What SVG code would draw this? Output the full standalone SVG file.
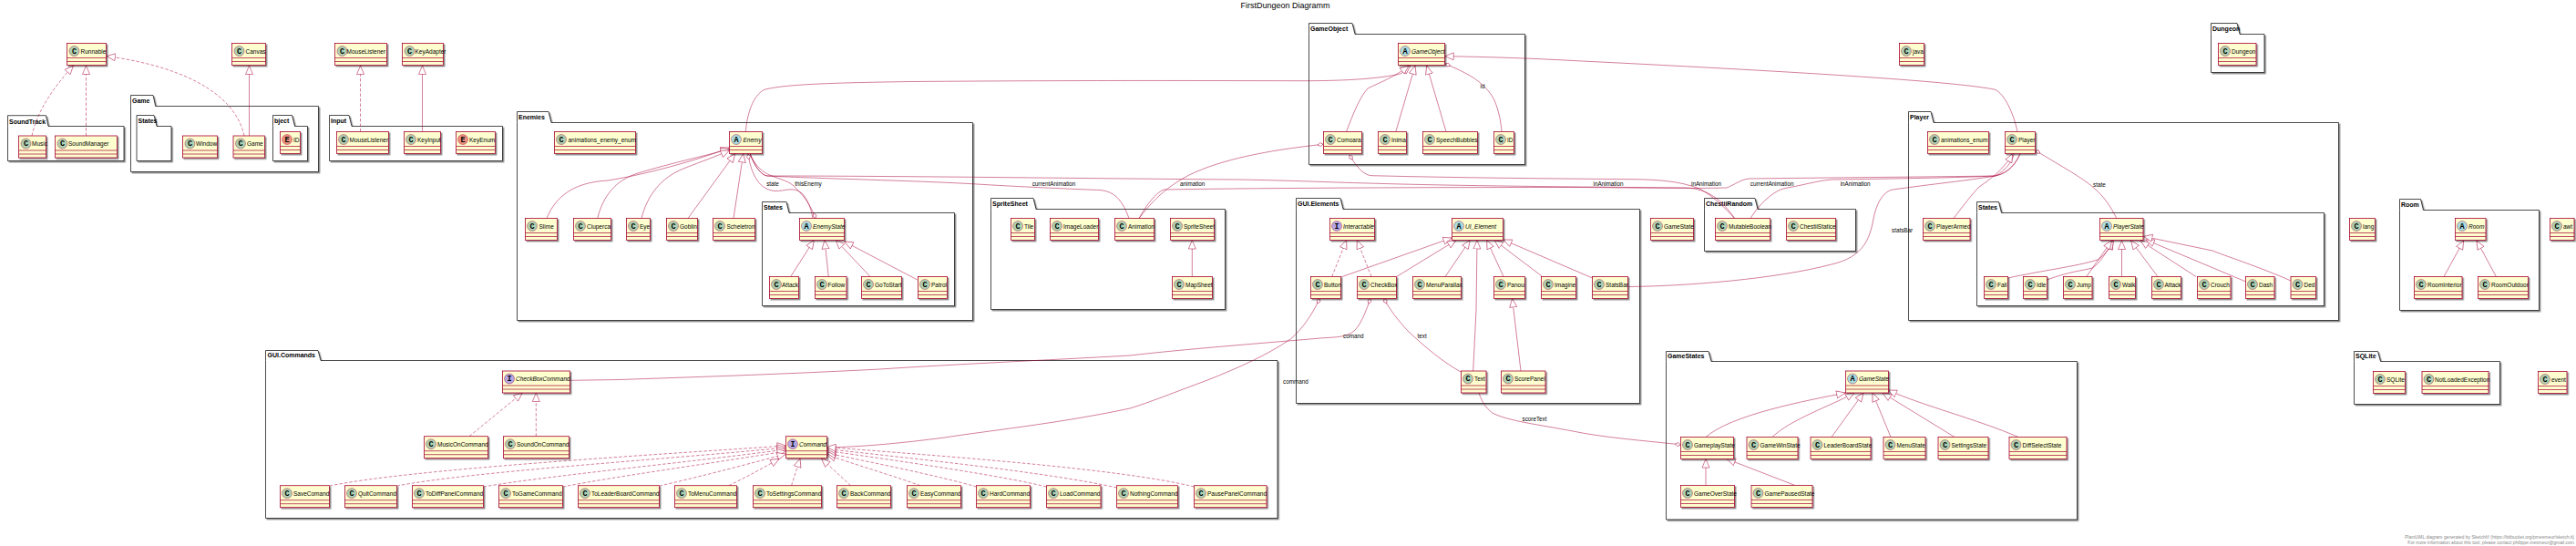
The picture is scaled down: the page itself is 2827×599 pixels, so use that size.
<svg xmlns="http://www.w3.org/2000/svg" width="2827" height="599" viewBox="0 0 2827 599">
<defs>
<filter id="sh" x="-20%" y="-20%" width="150%" height="150%"><feDropShadow dx="1.5" dy="1.5" stdDeviation="0.7" flood-color="#000" flood-opacity="0.45"/></filter>
<marker id="tri" markerUnits="userSpaceOnUse" markerWidth="12" markerHeight="10" refX="10" refY="5" orient="auto"><path d="M0.5 1L10 5L0.5 9Z" fill="#fff" stroke="#A80036" stroke-width="0.5"/></marker>
<marker id="dia" markerUnits="userSpaceOnUse" markerWidth="8" markerHeight="6" refX="0.5" refY="3" orient="auto"><path d="M0.5 3L3.5 1L6.5 3L3.5 5Z" fill="#fff" stroke="#A80036" stroke-width="0.5"/></marker>
</defs>
<style>
text{font-family:"Liberation Sans",Arial,sans-serif;fill:#000}
.b{fill:#FEFECE;stroke:#A80036;stroke-width:.8;filter:url(#sh)}
.d{fill:none;stroke:#A80036;stroke-width:.7}
.ic{stroke:#A80036;stroke-width:.4}
.C{fill:#ADD1B2}.A{fill:#A9DCDF}.I{fill:#B4A7E5}.E{fill:#EB937F}
.g{font-family:"Liberation Mono",monospace;font-weight:700;font-size:8.5px;text-anchor:middle}
.t{font-size:6.5px}
.it{font-size:6.5px;font-style:italic}
.p{fill:#fff;stroke:#000;stroke-width:.7;filter:url(#sh)}
.pt{font-size:7px;font-weight:700}
.l{font-size:6.3px}
.e{fill:none;stroke:#A80036;stroke-width:.5}
.s{stroke-dasharray:3.5 2}
.h{marker-end:url(#tri)}
.o{marker-start:url(#dia)}
.f{font-size:5px;fill:#888;text-anchor:end}
</style>
<text x="1410.5" y="9" font-size="9" text-anchor="middle">FirstDungeon Diagramm</text>
<g id="packages">
<g id="p-SoundTrack"><path class="p" d="M8.5 138.5V126.7H50.5L53 138.5H136V176.5H8.5Z"/><text class="pt" x="10" y="135.5">SoundTrack</text></g>
<g id="p-Game"><path class="p" d="M143.5 116.5V104.5H168L170.7 116.5H349.5V188.5H143.5Z"/><text class="pt" x="145" y="113">Game</text></g>
<g id="p-Game-States"><path class="p" d="M150 138.5V126.5H169L172 138.5H188V176.5H150Z"/><text class="pt" x="151.5" y="135">States</text></g>
<g id="p-Object"><path class="p" d="M299.5 138.5V126.5H320.5L323.5 138.5H337.5V176.5H299.5Z"/><text class="pt" x="301" y="135">bject</text></g>
<g id="p-Input"><path class="p" d="M361.5 138.5V126.5H383L386 138.5H551.5V176.5H361.5Z"/><text class="pt" x="363" y="135">Input</text></g>
<g id="p-Enemies"><path class="p" d="M567.5 134.5V122.5H602L605 134.5H1067.5V351.5H567.5Z"/><text class="pt" x="569" y="131">Enemies</text></g>
<g id="p-Enemy-States"><path class="p" d="M836.5 233.5V221.5H863L866 233.5H1047.5V335.5H836.5Z"/><text class="pt" x="838" y="230">States</text></g>
<g id="p-SpriteSheet"><path class="p" d="M1087.5 229.5V217.5H1134L1137 229.5H1344.5V339.5H1087.5Z"/><text class="pt" x="1089" y="226">SpriteSheet</text></g>
<g id="p-GameObject"><path class="p" d="M1436.5 37.5V25.5H1484L1487 37.5H1673.5V180.5H1436.5Z"/><text class="pt" x="1438" y="34">GameObject</text></g>
<g id="p-GUIElements"><path class="p" d="M1422.5 229.5V217.5H1471L1474 229.5H1799.5V442.5H1422.5Z"/><text class="pt" x="1424" y="226">GUI.Elements</text></g>
<g id="p-ChestiiRandom"><path class="p" d="M1870.5 229.5V217.5H1926L1929 229.5H2036.5V275.5H1870.5Z"/><text class="pt" x="1872" y="226">ChestiiRandom</text></g>
<g id="p-Dungeon"><path class="p" d="M2426.5 37.5V25.5H2455L2458 37.5H2485V79.5H2426.5Z"/><text class="pt" x="2428" y="34">Dungeon</text></g>
<g id="p-Player"><path class="p" d="M2094.5 134.5V122.5H2119L2122 134.5H2566.5V351.5H2094.5Z"/><text class="pt" x="2096" y="131">Player</text></g>
<g id="p-Player-States"><path class="p" d="M2169.5 233.5V221.5H2193.5L2196.5 233.5H2550.5V335.5H2169.5Z"/><text class="pt" x="2171" y="230">States</text></g>
<g id="p-Room"><path class="p" d="M2633.5 230.5V218.5H2656.5L2659.5 230.5H2786.5V340.5H2633.5Z"/><text class="pt" x="2635" y="227">Room</text></g>
<g id="p-SQLite"><path class="p" d="M2583.5 396.5V385.5H2609.5L2612.5 396.5H2743.5V443.5H2583.5Z"/><text class="pt" x="2585" y="393">SQLite</text></g>
<g id="p-GUICommands"><path class="p" d="M291.5 395.5V384.5H349L352 395.5H1402V568.5H291.5Z"/><text class="pt" x="293.5" y="392">GUI.Commands</text></g>
<g id="p-GameStates"><path class="p" d="M1828.5 396.5V385.5H1875L1878 396.5H2279.5V570H1828.5Z"/><text class="pt" x="1830" y="393">GameStates</text></g>
</g>
<g id="connectors">
<path class="e s h" d="M35 149C40 125 55 100 80.5 72"/>
<path class="e s h" d="M94.5 149V72"/>
<path class="e s h" d="M268 149C260 110 215 75 117 61.5"/>
<path class="e h" d="M273.5 149V72"/>
<path class="e s h" d="M395.5 144.5V72"/>
<path class="e h" d="M463.5 144.5V72"/>
<path class="e h" d="M818.3 144.5C820 125 826 105 838.8 98.3C860 93 900 91 1000 89.5C1200 88 1300 88.5 1437 88.7C1480 88.5 1515 86 1537 81L1548 72"/>
<path class="e h" d="M1477.5 144.5C1485 125 1492 107 1501 97C1515 90 1530 85 1546 72"/>
<path class="e h" d="M1531.8 144.5L1553 72"/>
<path class="e h" d="M1587 144.5L1565.7 72"/>
<path class="e o" d="M1586 70C1610 80 1630 90 1640 110C1645 122 1647 133 1648 144.5"/>
<path class="e h" d="M2214 144.5C2210 125 2200 103 2189.5 98.3C2150 90 2000 80 1730 66.7C1680 64 1640 62.5 1585.7 61.7"/>
<path class="e h" d="M600 239.5C610 215 630 200 667 198C700 193 760 178 800.5 162"/>
<path class="e h" d="M655.7 239.5C662 215 675 198 700 190C740 178 770 172 800.5 163.5"/>
<path class="e h" d="M704 239.5C710 215 725 195 750 185C770 177 785 172 800.5 165"/>
<path class="e h" d="M755 239.5L806.7 168.5"/>
<path class="e h" d="M805 239.5L815.7 168.5"/>
<path class="e o" d="M821 169C825 195 835 208 850 209.5C862 210 870 204 880 212C886 218 890 228 892 239.5"/>
<path class="e o" d="M895 239.5C890 225 880 212 870 203C855 192 835 197 823 168.5"/>
<path class="e h" d="M867.7 303.5L893.3 263.5"/>
<path class="e h" d="M909.3 303.5L905 263.5"/>
<path class="e h" d="M955 303.5L917.3 263.5"/>
<path class="e h" d="M1006.7 307L926.7 265"/>
<path class="e" d="M823 168.5C828 182 835 192 842 193C1000 193 1200 196 1358 197C1420 198 1460 200 1501 201C1600 204 1730 205 1850 206C1875 207 1890 220 1903.6 239.5"/>
<path class="e" d="M823 168.5C828 182 835 192 842 193C900 196 1000 198 1067 201.7C1120 205 1170 207 1200 208.3C1220 208 1230 215 1239 239.5"/>
<path class="e o" d="M1452 158.3C1390 165 1340 175 1305 192C1280 205 1265 220 1250 239.5"/>
<path class="e" d="M1250 239.5C1258 225 1268 212 1277 208C1400 206 1600 205.5 1730 205.5C1800 206 1860 207 1894.9 206C1905 202 1910 197 1919.4 196C2000 195 2120 194 2189.5 193C2205 190 2213 178 2217 168.5"/>
<path class="e o" d="M1481 170C1487 180 1495 192 1505 192.7C1600 195 1700 196 1793 196.7C1820 197 1845 199 1865 207C1880 215 1893 228 1903.6 239.5"/>
<path class="e" d="M1921 239.5C1930 225 1945 210 1958 206.7C1980 203 1995 198 2010.6 197C2080 196 2150 195 2189.5 193C2205 190 2213 178 2217 168.5"/>
<path class="e" d="M1786.8 314.5C1850 314 1950 306 2010 290C2045 282 2052 262 2056 240C2060 220 2068 210 2077 208C2120 202 2160 198 2189.5 193C2200 188 2208 178 2210.5 168.5"/>
<path class="e h" d="M2144 239.5C2155 225 2165 212 2172 205C2185 196 2200 185 2208.8 168.5"/>
<path class="e o" d="M2233.7 165C2265 184 2285 195 2296.5 205C2310 216 2317 228 2322.8 239.5"/>
<path class="e h" d="M2203.5 305C2240 297 2280 292 2302 285C2310 280 2315 272 2319 264"/>
<path class="e h" d="M2246.7 307C2270 298 2285 297 2296.5 294C2305 288 2312 276 2319.5 264"/>
<path class="e h" d="M2289.7 303.5L2317.5 264"/>
<path class="e h" d="M2328.5 303.5V264"/>
<path class="e h" d="M2368 303.5L2338.6 264"/>
<path class="e h" d="M2410 303.5L2349 264"/>
<path class="e h" d="M2464.7 309L2354.8 263"/>
<path class="e h" d="M2514 308C2480 293 2440 280 2428 275L2352.5 259.3"/>
<path class="e h" d="M2682 303.5L2703.7 264"/>
<path class="e h" d="M2739.4 303.5L2718 264"/>
<path class="e h" d="M1308.3 303.5V263.5"/>
<path class="e s h" d="M1461.7 303.5L1477.7 263.5"/>
<path class="e s h" d="M1505 303.5L1489.3 263.5"/>
<path class="e h" d="M1471.7 304L1593.3 261"/>
<path class="e h" d="M1532.7 303.5L1598 263.5"/>
<path class="e h" d="M1586 303.5L1613.3 263.5"/>
<path class="e h" d="M1616.7 407L1620 340L1621 263.5"/>
<path class="e h" d="M1650 303.5L1631.7 263.5"/>
<path class="e h" d="M1691.7 302.7L1640 263.5"/>
<path class="e h" d="M1747.6 305L1649.7 263"/>
<path class="e h" d="M1669 407L1659.6 327.5"/>
<path class="e o" d="M1448.3 327.5C1440 345 1430 360 1416.7 371.7C1390 390 1360 403 1326 416.7C1290 430 1260 442 1240 448C1160 465 1080 473 1037 480C990 486 950 490 907.5 491"/>
<path class="e o" d="M1503.9 327.5C1498 345 1492 358 1486 363C1478 370 1465 370 1452.5 370.7C1380 377 1300 383 1240 390C1150 395 1040 400 965.7 405C850 411 750 414 680 416.5L625.7 417.3"/>
<path class="e o" d="M1519 327.5C1525 340 1535 352 1545 363C1565 382 1585 398 1603.2 408"/>
<path class="e o" d="M1844.4 488L1839.7 487.3C1800 483 1760 480 1726 473C1690 466 1655 462 1637.7 453C1630 447 1626 440 1623 431"/>
<path class="e s h" d="M515 478.7L573.3 431"/>
<path class="e s h" d="M588.3 478.7V431"/>
<path class="e s h" d="M361.7 533C450 515 700 500 862.5 489"/>
<path class="e s h" d="M435.7 533C520 517 720 505 862.5 491"/>
<path class="e s h" d="M530.7 534C600 522 750 508 862.5 493"/>
<path class="e s h" d="M617.7 534C680 522 770 510 862.5 495"/>
<path class="e s h" d="M723.6 533C760 525 810 512 862.5 498"/>
<path class="e s h" d="M799.6 532.7C820 523 840 512 855 503.3"/>
<path class="e s h" d="M868.6 532.7L878 503"/>
<path class="e s h" d="M933.6 532.7L901.4 503"/>
<path class="e s h" d="M1010 532.7C980 522 940 510 907.5 499"/>
<path class="e s h" d="M1071.4 534C1030 522 960 508 907.5 497"/>
<path class="e s h" d="M1148.2 534C1100 522 990 506 907.5 494.5"/>
<path class="e s h" d="M1225.4 535C1150 518 1000 503 907.5 492.5"/>
<path class="e s h" d="M1310.3 534C1230 514 1030 500 907.5 490.5"/>
<path class="e h" d="M1872 479.5C1900 455 1980 440 2025 431"/>
<path class="e h" d="M1945 479.5C1965 460 2010 445 2035 431"/>
<path class="e h" d="M2010 479.5L2045 431"/>
<path class="e h" d="M2075 479.5L2055 431"/>
<path class="e h" d="M2145 479.5L2066 431"/>
<path class="e h" d="M2215 479.5C2170 460 2110 445 2072 428"/>
<path class="e h" d="M1872 532.5V503.5"/>
<path class="e h" d="M1970 532.5L1895 503.5"/>
</g>
<g id="labels">
<text class="l" x="848" y="204" text-anchor="middle">state</text>
<text class="l" x="887" y="204" text-anchor="middle">thisEnemy</text>
<text class="l" x="1132.7" y="204">currentAnimation</text>
<text class="l" x="1295" y="204">animation</text>
<text class="l" x="1624.5" y="97">id</text>
<text class="l" x="1748.6" y="204">inAnimation</text>
<text class="l" x="1856" y="204">inAnimation</text>
<text class="l" x="1920.8" y="204">currentAnimation</text>
<text class="l" x="2019.7" y="204">inAnimation</text>
<text class="l" x="2076" y="254.5">statsBar</text>
<text class="l" x="2297" y="204.5">state</text>
<text class="l" x="1474" y="370.5">comand</text>
<text class="l" x="1555.6" y="370.5">text</text>
<text class="l" x="1408" y="421">command</text>
<text class="l" x="1670.5" y="461.5">scoreText</text>
</g>
<g id="n-Runnable"><rect class="b" x="73.5" y="47.5" width="43" height="24"/><path class="d" d="M73.5 63.5h43M73.5 67.5h43"/><circle class="ic C" cx="81.5" cy="56" r="5.5"/><text class="g" x="81.5" y="58.8">C</text><text class="t" x="88.5" y="58.5">Runnable</text></g>
<g id="n-Canvas"><rect class="b" x="254.5" y="47.5" width="37" height="24"/><path class="d" d="M254.5 63.5h37M254.5 67.5h37"/><circle class="ic C" cx="262.5" cy="56" r="5.5"/><text class="g" x="262.5" y="58.8">C</text><text class="t" x="269.5" y="58.5">Canvas</text></g>
<g id="n-MouseListenerTop"><rect class="b" x="367.5" y="47.5" width="57" height="24"/><path class="d" d="M367.5 63.5h57M367.5 67.5h57"/><circle class="ic C" cx="375.5" cy="56" r="5.5"/><text class="g" x="375.5" y="58.8">C</text><text class="t" x="380.5" y="58.5">MouseListener</text></g>
<g id="n-KeyAdapter"><rect class="b" x="441.5" y="47.5" width="45" height="24"/><path class="d" d="M441.5 63.5h45M441.5 67.5h45"/><circle class="ic C" cx="449.5" cy="56" r="5.5"/><text class="g" x="449.5" y="58.8">C</text><text class="t" x="455.5" y="58.5">KeyAdapter</text></g>
<g id="n-Music"><rect class="b" x="20.5" y="149" width="30" height="24"/><path class="d" d="M20.5 165h30M20.5 169h30"/><circle class="ic C" cx="28.5" cy="157.5" r="5.5"/><text class="g" x="28.5" y="160.3">C</text><text class="t" x="35" y="160">Music</text></g>
<g id="n-SoundManager"><rect class="b" x="60.5" y="149" width="68" height="24"/><path class="d" d="M60.5 165h68M60.5 169h68"/><circle class="ic C" cx="68.5" cy="157.5" r="5.5"/><text class="g" x="68.5" y="160.3">C</text><text class="t" x="75" y="160">SoundManager</text></g>
<g id="n-Window"><rect class="b" x="200.5" y="149" width="38" height="24"/><path class="d" d="M200.5 165h38M200.5 169h38"/><circle class="ic C" cx="208.5" cy="157.5" r="5.5"/><text class="g" x="208.5" y="160.3">C</text><text class="t" x="215" y="160">Window</text></g>
<g id="n-Game"><rect class="b" x="256" y="149" width="34.5" height="24"/><path class="d" d="M256 165h34.5M256 169h34.5"/><circle class="ic C" cx="264" cy="157.5" r="5.5"/><text class="g" x="264" y="160.3">C</text><text class="t" x="271" y="160">Game</text></g>
<g id="n-IDenum"><rect class="b" x="307.5" y="144.5" width="22" height="24"/><path class="d" d="M307.5 160.5h22M307.5 164.5h22"/><circle class="ic E" cx="315" cy="153" r="5.5"/><text class="g" x="315" y="155.8">E</text><text class="t" x="322" y="155.5">ID</text></g>
<g id="n-MouseListener"><rect class="b" x="369.5" y="144.5" width="57" height="24"/><path class="d" d="M369.5 160.5h57M369.5 164.5h57"/><circle class="ic C" cx="377" cy="153" r="5.5"/><text class="g" x="377" y="155.8">C</text><text class="t" x="383.5" y="155.5">MouseListener</text></g>
<g id="n-KeyInput"><rect class="b" x="443.5" y="144.5" width="40" height="24"/><path class="d" d="M443.5 160.5h40M443.5 164.5h40"/><circle class="ic C" cx="451" cy="153" r="5.5"/><text class="g" x="451" y="155.8">C</text><text class="t" x="458" y="155.5">KeyInput</text></g>
<g id="n-KeyEnum"><rect class="b" x="500.5" y="144.5" width="43" height="24"/><path class="d" d="M500.5 160.5h43M500.5 164.5h43"/><circle class="ic E" cx="508" cy="153" r="5.5"/><text class="g" x="508" y="155.8">E</text><text class="t" x="515" y="155.5">KeyEnum</text></g>
<g id="n-animations_enemy_enum"><rect class="b" x="608.5" y="144.5" width="89" height="24"/><path class="d" d="M608.5 160.5h89M608.5 164.5h89"/><circle class="ic C" cx="616" cy="153" r="5.5"/><text class="g" x="616" y="155.8">C</text><text class="t" x="623.5" y="155.5">animations_enemy_enum</text></g>
<g id="n-Enemy"><rect class="b" x="800.5" y="144.5" width="36" height="24"/><path class="d" d="M800.5 160.5h36M800.5 164.5h36"/><circle class="ic A" cx="808" cy="153" r="5.5"/><text class="g" x="808" y="155.8">A</text><text class="it" x="815.5" y="155.5">Enemy</text></g>
<g id="n-Slime"><rect class="b" x="576.5" y="239.5" width="35" height="24"/><path class="d" d="M576.5 255.5h35M576.5 259.5h35"/><circle class="ic C" cx="584" cy="248" r="5.5"/><text class="g" x="584" y="250.8">C</text><text class="t" x="591.5" y="250.5">Slime</text></g>
<g id="n-Ciuperca"><rect class="b" x="629.5" y="239.5" width="41" height="24"/><path class="d" d="M629.5 255.5h41M629.5 259.5h41"/><circle class="ic C" cx="637" cy="248" r="5.5"/><text class="g" x="637" y="250.8">C</text><text class="t" x="644" y="250.5">Ciuperca</text></g>
<g id="n-Eye"><rect class="b" x="687.5" y="239.5" width="26" height="24"/><path class="d" d="M687.5 255.5h26M687.5 259.5h26"/><circle class="ic C" cx="695" cy="248" r="5.5"/><text class="g" x="695" y="250.8">C</text><text class="t" x="702" y="250.5">Eye</text></g>
<g id="n-Goblin"><rect class="b" x="731.5" y="239.5" width="34" height="24"/><path class="d" d="M731.5 255.5h34M731.5 259.5h34"/><circle class="ic C" cx="739" cy="248" r="5.5"/><text class="g" x="739" y="250.8">C</text><text class="t" x="746" y="250.5">Goblin</text></g>
<g id="n-Scheletron"><rect class="b" x="782.5" y="239.5" width="46" height="24"/><path class="d" d="M782.5 255.5h46M782.5 259.5h46"/><circle class="ic C" cx="790" cy="248" r="5.5"/><text class="g" x="790" y="250.8">C</text><text class="t" x="797.5" y="250.5">Scheletron</text></g>
<g id="n-EnemyState"><rect class="b" x="877.5" y="239.5" width="49" height="24"/><path class="d" d="M877.5 255.5h49M877.5 259.5h49"/><circle class="ic A" cx="885" cy="248" r="5.5"/><text class="g" x="885" y="250.8">A</text><text class="it" x="892" y="250.5">EnemyState</text></g>
<g id="n-EnemyAttack"><rect class="b" x="844.5" y="303.5" width="32" height="24"/><path class="d" d="M844.5 319.5h32M844.5 323.5h32"/><circle class="ic C" cx="852" cy="312" r="5.5"/><text class="g" x="852" y="314.8">C</text><text class="t" x="858" y="314.5">Attack</text></g>
<g id="n-Follow"><rect class="b" x="894.5" y="303.5" width="34.5" height="24"/><path class="d" d="M894.5 319.5h34.5M894.5 323.5h34.5"/><circle class="ic C" cx="902" cy="312" r="5.5"/><text class="g" x="902" y="314.8">C</text><text class="t" x="908.5" y="314.5">Follow</text></g>
<g id="n-GoToStart"><rect class="b" x="945.5" y="303.5" width="44" height="24"/><path class="d" d="M945.5 319.5h44M945.5 323.5h44"/><circle class="ic C" cx="953" cy="312" r="5.5"/><text class="g" x="953" y="314.8">C</text><text class="t" x="960" y="314.5">GoToStart</text></g>
<g id="n-Patrol"><rect class="b" x="1007.5" y="303.5" width="32" height="24"/><path class="d" d="M1007.5 319.5h32M1007.5 323.5h32"/><circle class="ic C" cx="1015" cy="312" r="5.5"/><text class="g" x="1015" y="314.8">C</text><text class="t" x="1022" y="314.5">Patrol</text></g>
<g id="n-Tile"><rect class="b" x="1109.5" y="239.5" width="26" height="24"/><path class="d" d="M1109.5 255.5h26M1109.5 259.5h26"/><circle class="ic C" cx="1117" cy="248" r="5.5"/><text class="g" x="1117" y="250.8">C</text><text class="t" x="1124" y="250.5">Tile</text></g>
<g id="n-ImageLoader"><rect class="b" x="1152.5" y="239.5" width="53" height="24"/><path class="d" d="M1152.5 255.5h53M1152.5 259.5h53"/><circle class="ic C" cx="1160" cy="248" r="5.5"/><text class="g" x="1160" y="250.8">C</text><text class="t" x="1167" y="250.5">ImageLoader</text></g>
<g id="n-Animation"><rect class="b" x="1223.5" y="239.5" width="43" height="24"/><path class="d" d="M1223.5 255.5h43M1223.5 259.5h43"/><circle class="ic C" cx="1231" cy="248" r="5.5"/><text class="g" x="1231" y="250.8">C</text><text class="t" x="1238" y="250.5">Animation</text></g>
<g id="n-SpriteSheet"><rect class="b" x="1284.5" y="239.5" width="48" height="24"/><path class="d" d="M1284.5 255.5h48M1284.5 259.5h48"/><circle class="ic C" cx="1292" cy="248" r="5.5"/><text class="g" x="1292" y="250.8">C</text><text class="t" x="1299" y="250.5">SpriteSheet</text></g>
<g id="n-MapSheet"><rect class="b" x="1286.5" y="303.5" width="44" height="24"/><path class="d" d="M1286.5 319.5h44M1286.5 323.5h44"/><circle class="ic C" cx="1294" cy="312" r="5.5"/><text class="g" x="1294" y="314.8">C</text><text class="t" x="1301" y="314.5">MapSheet</text></g>
<g id="n-GameObject"><rect class="b" x="1534.5" y="47.5" width="51" height="24"/><path class="d" d="M1534.5 63.5h51M1534.5 67.5h51"/><circle class="ic A" cx="1542" cy="56" r="5.5"/><text class="g" x="1542" y="58.8">A</text><text class="it" x="1549" y="58.5">GameObject</text></g>
<g id="n-Comoara"><rect class="b" x="1452.5" y="144.5" width="42" height="24"/><path class="d" d="M1452.5 160.5h42M1452.5 164.5h42"/><circle class="ic C" cx="1460" cy="153" r="5.5"/><text class="g" x="1460" y="155.8">C</text><text class="t" x="1467" y="155.5">Comoara</text></g>
<g id="n-Inima"><rect class="b" x="1512.5" y="144.5" width="31" height="24"/><path class="d" d="M1512.5 160.5h31M1512.5 164.5h31"/><circle class="ic C" cx="1520" cy="153" r="5.5"/><text class="g" x="1520" y="155.8">C</text><text class="t" x="1527" y="155.5">Inima</text></g>
<g id="n-SpeechBubbles"><rect class="b" x="1561.5" y="144.5" width="60" height="24"/><path class="d" d="M1561.5 160.5h60M1561.5 164.5h60"/><circle class="ic C" cx="1569" cy="153" r="5.5"/><text class="g" x="1569" y="155.8">C</text><text class="t" x="1576" y="155.5">SpeechBubbles</text></g>
<g id="n-ID"><rect class="b" x="1639.5" y="144.5" width="22" height="24"/><path class="d" d="M1639.5 160.5h22M1639.5 164.5h22"/><circle class="ic C" cx="1647" cy="153" r="5.5"/><text class="g" x="1647" y="155.8">C</text><text class="t" x="1654" y="155.5">ID</text></g>
<g id="n-Interactable"><rect class="b" x="1459.5" y="239.5" width="49" height="24"/><path class="d" d="M1459.5 255.5h49M1459.5 259.5h49"/><circle class="ic I" cx="1467" cy="248" r="5.5"/><text class="g" x="1467" y="250.8">I</text><text class="it" x="1474" y="250.5">Interactable</text></g>
<g id="n-UI_Element"><rect class="b" x="1593.5" y="239.5" width="56" height="24"/><path class="d" d="M1593.5 255.5h56M1593.5 259.5h56"/><circle class="ic A" cx="1601" cy="248" r="5.5"/><text class="g" x="1601" y="250.8">A</text><text class="it" x="1608" y="250.5">UI_Element</text></g>
<g id="n-Button"><rect class="b" x="1438.5" y="303.5" width="33" height="24"/><path class="d" d="M1438.5 319.5h33M1438.5 323.5h33"/><circle class="ic C" cx="1446" cy="312" r="5.5"/><text class="g" x="1446" y="314.8">C</text><text class="t" x="1453" y="314.5">Button</text></g>
<g id="n-CheckBox"><rect class="b" x="1489.5" y="303.5" width="43" height="24"/><path class="d" d="M1489.5 319.5h43M1489.5 323.5h43"/><circle class="ic C" cx="1497" cy="312" r="5.5"/><text class="g" x="1497" y="314.8">C</text><text class="t" x="1504" y="314.5">CheckBox</text></g>
<g id="n-MenuParallax"><rect class="b" x="1550.5" y="303.5" width="53" height="24"/><path class="d" d="M1550.5 319.5h53M1550.5 323.5h53"/><circle class="ic C" cx="1558" cy="312" r="5.5"/><text class="g" x="1558" y="314.8">C</text><text class="t" x="1565" y="314.5">MenuParallax</text></g>
<g id="n-Panou"><rect class="b" x="1639.5" y="303.5" width="34" height="24"/><path class="d" d="M1639.5 319.5h34M1639.5 323.5h34"/><circle class="ic C" cx="1647" cy="312" r="5.5"/><text class="g" x="1647" y="314.8">C</text><text class="t" x="1654" y="314.5">Panou</text></g>
<g id="n-Imagine"><rect class="b" x="1691.5" y="303.5" width="38" height="24"/><path class="d" d="M1691.5 319.5h38M1691.5 323.5h38"/><circle class="ic C" cx="1699" cy="312" r="5.5"/><text class="g" x="1699" y="314.8">C</text><text class="t" x="1706" y="314.5">Imagine</text></g>
<g id="n-StatsBar"><rect class="b" x="1747.5" y="303.5" width="39" height="24"/><path class="d" d="M1747.5 319.5h39M1747.5 323.5h39"/><circle class="ic C" cx="1755" cy="312" r="5.5"/><text class="g" x="1755" y="314.8">C</text><text class="t" x="1762" y="314.5">StatsBar</text></g>
<g id="n-Text"><rect class="b" x="1603.5" y="407" width="27.5" height="24"/><path class="d" d="M1603.5 423h27.5M1603.5 427h27.5"/><circle class="ic C" cx="1611" cy="415.5" r="5.5"/><text class="g" x="1611" y="418.3">C</text><text class="t" x="1618" y="418">Text</text></g>
<g id="n-ScorePanel"><rect class="b" x="1647.5" y="407" width="48.5" height="24"/><path class="d" d="M1647.5 423h48.5M1647.5 427h48.5"/><circle class="ic C" cx="1655" cy="415.5" r="5.5"/><text class="g" x="1655" y="418.3">C</text><text class="t" x="1662" y="418">ScorePanel</text></g>
<g id="n-GameStateTop"><rect class="b" x="1811.5" y="239.5" width="47" height="24"/><path class="d" d="M1811.5 255.5h47M1811.5 259.5h47"/><circle class="ic C" cx="1819" cy="248" r="5.5"/><text class="g" x="1819" y="250.8">C</text><text class="t" x="1826" y="250.5">GameState</text></g>
<g id="n-MutableBoolean"><rect class="b" x="1882.5" y="239.5" width="60" height="24"/><path class="d" d="M1882.5 255.5h60M1882.5 259.5h60"/><circle class="ic C" cx="1890" cy="248" r="5.5"/><text class="g" x="1890" y="250.8">C</text><text class="t" x="1897" y="250.5">MutableBoolean</text></g>
<g id="n-ChestiiStatice"><rect class="b" x="1960.5" y="239.5" width="54" height="24"/><path class="d" d="M1960.5 255.5h54M1960.5 259.5h54"/><circle class="ic C" cx="1968" cy="248" r="5.5"/><text class="g" x="1968" y="250.8">C</text><text class="t" x="1975" y="250.5">ChestiiStatice</text></g>
<g id="n-java"><rect class="b" x="2084.5" y="47.5" width="27" height="24"/><path class="d" d="M2084.5 63.5h27M2084.5 67.5h27"/><circle class="ic C" cx="2092" cy="56" r="5.5"/><text class="g" x="2092" y="58.8">C</text><text class="t" x="2099" y="58.5">java</text></g>
<g id="n-Dungeon"><rect class="b" x="2434.5" y="47.5" width="41.5" height="24"/><path class="d" d="M2434.5 63.5h41.5M2434.5 67.5h41.5"/><circle class="ic C" cx="2442" cy="56" r="5.5"/><text class="g" x="2442" y="58.8">C</text><text class="t" x="2449" y="58.5">Dungeon</text></g>
<g id="n-animations_enum"><rect class="b" x="2115.5" y="144.5" width="67" height="24"/><path class="d" d="M2115.5 160.5h67M2115.5 164.5h67"/><circle class="ic C" cx="2123" cy="153" r="5.5"/><text class="g" x="2123" y="155.8">C</text><text class="t" x="2130" y="155.5">animations_enum</text></g>
<g id="n-Player"><rect class="b" x="2200.5" y="144.5" width="33" height="24"/><path class="d" d="M2200.5 160.5h33M2200.5 164.5h33"/><circle class="ic C" cx="2208" cy="153" r="5.5"/><text class="g" x="2208" y="155.8">C</text><text class="t" x="2215" y="155.5">Player</text></g>
<g id="n-PlayerArmed"><rect class="b" x="2110.5" y="239.5" width="51.5" height="24"/><path class="d" d="M2110.5 255.5h51.5M2110.5 259.5h51.5"/><circle class="ic C" cx="2118" cy="248" r="5.5"/><text class="g" x="2118" y="250.8">C</text><text class="t" x="2125" y="250.5">PlayerArmed</text></g>
<g id="n-PlayerState"><rect class="b" x="2304.5" y="239.5" width="47.5" height="24"/><path class="d" d="M2304.5 255.5h47.5M2304.5 259.5h47.5"/><circle class="ic A" cx="2312" cy="248" r="5.5"/><text class="g" x="2312" y="250.8">A</text><text class="it" x="2319" y="250.5">PlayerState</text></g>
<g id="n-Fall"><rect class="b" x="2177.5" y="303.5" width="26" height="24"/><path class="d" d="M2177.5 319.5h26M2177.5 323.5h26"/><circle class="ic C" cx="2185" cy="312" r="5.5"/><text class="g" x="2185" y="314.8">C</text><text class="t" x="2192" y="314.5">Fall</text></g>
<g id="n-Idle"><rect class="b" x="2220.5" y="303.5" width="26" height="24"/><path class="d" d="M2220.5 319.5h26M2220.5 323.5h26"/><circle class="ic C" cx="2228" cy="312" r="5.5"/><text class="g" x="2228" y="314.8">C</text><text class="t" x="2235" y="314.5">Idle</text></g>
<g id="n-Jump"><rect class="b" x="2264.5" y="303.5" width="31.5" height="24"/><path class="d" d="M2264.5 319.5h31.5M2264.5 323.5h31.5"/><circle class="ic C" cx="2272" cy="312" r="5.5"/><text class="g" x="2272" y="314.8">C</text><text class="t" x="2279" y="314.5">Jump</text></g>
<g id="n-Walk"><rect class="b" x="2314.5" y="303.5" width="29" height="24"/><path class="d" d="M2314.5 319.5h29M2314.5 323.5h29"/><circle class="ic C" cx="2322" cy="312" r="5.5"/><text class="g" x="2322" y="314.8">C</text><text class="t" x="2329" y="314.5">Walk</text></g>
<g id="n-PlayerAttack"><rect class="b" x="2361.5" y="303.5" width="32" height="24"/><path class="d" d="M2361.5 319.5h32M2361.5 323.5h32"/><circle class="ic C" cx="2369" cy="312" r="5.5"/><text class="g" x="2369" y="314.8">C</text><text class="t" x="2375.5" y="314.5">Attack</text></g>
<g id="n-Crouch"><rect class="b" x="2411.5" y="303.5" width="36.5" height="24"/><path class="d" d="M2411.5 319.5h36.5M2411.5 323.5h36.5"/><circle class="ic C" cx="2419" cy="312" r="5.5"/><text class="g" x="2419" y="314.8">C</text><text class="t" x="2426" y="314.5">Crouch</text></g>
<g id="n-Dash"><rect class="b" x="2464.5" y="303.5" width="31.5" height="24"/><path class="d" d="M2464.5 319.5h31.5M2464.5 323.5h31.5"/><circle class="ic C" cx="2472" cy="312" r="5.5"/><text class="g" x="2472" y="314.8">C</text><text class="t" x="2479" y="314.5">Dash</text></g>
<g id="n-Ded"><rect class="b" x="2514" y="303.5" width="27.5" height="24"/><path class="d" d="M2514 319.5h27.5M2514 323.5h27.5"/><circle class="ic C" cx="2521.5" cy="312" r="5.5"/><text class="g" x="2521.5" y="314.8">C</text><text class="t" x="2528.5" y="314.5">Ded</text></g>
<g id="n-lang"><rect class="b" x="2578.5" y="239.5" width="28" height="24"/><path class="d" d="M2578.5 255.5h28M2578.5 259.5h28"/><circle class="ic C" cx="2586" cy="248" r="5.5"/><text class="g" x="2586" y="250.8">C</text><text class="t" x="2593" y="250.5">lang</text></g>
<g id="n-Room"><rect class="b" x="2694.5" y="239.5" width="33.5" height="24"/><path class="d" d="M2694.5 255.5h33.5M2694.5 259.5h33.5"/><circle class="ic A" cx="2702" cy="248" r="5.5"/><text class="g" x="2702" y="250.8">A</text><text class="it" x="2709" y="250.5">Room</text></g>
<g id="n-RoomInterior"><rect class="b" x="2649.5" y="303.5" width="52.5" height="24"/><path class="d" d="M2649.5 319.5h52.5M2649.5 323.5h52.5"/><circle class="ic C" cx="2657" cy="312" r="5.5"/><text class="g" x="2657" y="314.8">C</text><text class="t" x="2664" y="314.5">RoomInterior</text></g>
<g id="n-RoomOutdoor"><rect class="b" x="2719.5" y="303.5" width="55" height="24"/><path class="d" d="M2719.5 319.5h55M2719.5 323.5h55"/><circle class="ic C" cx="2727" cy="312" r="5.5"/><text class="g" x="2727" y="314.8">C</text><text class="t" x="2734" y="314.5">RoomOutdoor</text></g>
<g id="n-awt"><rect class="b" x="2798.5" y="239.5" width="26.5" height="24"/><path class="d" d="M2798.5 255.5h26.5M2798.5 259.5h26.5"/><circle class="ic C" cx="2806" cy="248" r="5.5"/><text class="g" x="2806" y="250.8">C</text><text class="t" x="2813" y="250.5">awt</text></g>
<g id="n-SQLite"><rect class="b" x="2604.5" y="407.5" width="35" height="24"/><path class="d" d="M2604.5 423.5h35M2604.5 427.5h35"/><circle class="ic C" cx="2612" cy="416" r="5.5"/><text class="g" x="2612" y="418.8">C</text><text class="t" x="2619" y="418.5">SQLite</text></g>
<g id="n-NotLoadedException"><rect class="b" x="2658" y="407.5" width="73" height="24"/><path class="d" d="M2658 423.5h73M2658 427.5h73"/><circle class="ic C" cx="2665.5" cy="416" r="5.5"/><text class="g" x="2665.5" y="418.8">C</text><text class="t" x="2672" y="418.5">NotLoadedException</text></g>
<g id="n-event"><rect class="b" x="2785.5" y="407.5" width="31.5" height="24"/><path class="d" d="M2785.5 423.5h31.5M2785.5 427.5h31.5"/><circle class="ic C" cx="2793" cy="416" r="5.5"/><text class="g" x="2793" y="418.8">C</text><text class="t" x="2800" y="418.5">event</text></g>
<g id="n-CheckBoxCommand"><rect class="b" x="551.5" y="407" width="74" height="24"/><path class="d" d="M551.5 423h74M551.5 427h74"/><circle class="ic I" cx="559" cy="415.5" r="5.5"/><text class="g" x="559" y="418.3">I</text><text class="it" x="566" y="418">CheckBoxCommand</text></g>
<g id="n-MusicOnCommand"><rect class="b" x="465.5" y="478.7" width="70" height="24"/><path class="d" d="M465.5 494.7h70M465.5 498.7h70"/><circle class="ic C" cx="473" cy="487.2" r="5.5"/><text class="g" x="473" y="490">C</text><text class="t" x="480" y="489.7">MusicOnCommand</text></g>
<g id="n-SoundOnCommand"><rect class="b" x="552.5" y="478.7" width="72" height="24"/><path class="d" d="M552.5 494.7h72M552.5 498.7h72"/><circle class="ic C" cx="560" cy="487.2" r="5.5"/><text class="g" x="560" y="490">C</text><text class="t" x="567" y="489.7">SoundOnCommand</text></g>
<g id="n-Command"><rect class="b" x="862.5" y="478.7" width="45" height="24"/><path class="d" d="M862.5 494.7h45M862.5 498.7h45"/><circle class="ic I" cx="870" cy="487.2" r="5.5"/><text class="g" x="870" y="490">I</text><text class="it" x="877" y="489.7">Command</text></g>
<g id="n-SaveComand"><rect class="b" x="307.5" y="532.7" width="54" height="24"/><path class="d" d="M307.5 548.7h54M307.5 552.7h54"/><circle class="ic C" cx="315" cy="541.2" r="5.5"/><text class="g" x="315" y="544">C</text><text class="t" x="322" y="543.7">SaveComand</text></g>
<g id="n-QuitCommand"><rect class="b" x="378.5" y="532.7" width="57" height="24"/><path class="d" d="M378.5 548.7h57M378.5 552.7h57"/><circle class="ic C" cx="386" cy="541.2" r="5.5"/><text class="g" x="386" y="544">C</text><text class="t" x="393" y="543.7">QuitCommand</text></g>
<g id="n-ToDiffPanelCommand"><rect class="b" x="452.5" y="532.7" width="78" height="24"/><path class="d" d="M452.5 548.7h78M452.5 552.7h78"/><circle class="ic C" cx="460" cy="541.2" r="5.5"/><text class="g" x="460" y="544">C</text><text class="t" x="467" y="543.7">ToDiffPanelCommand</text></g>
<g id="n-ToGameCommand"><rect class="b" x="547.5" y="532.7" width="70" height="24"/><path class="d" d="M547.5 548.7h70M547.5 552.7h70"/><circle class="ic C" cx="555" cy="541.2" r="5.5"/><text class="g" x="555" y="544">C</text><text class="t" x="562" y="543.7">ToGameCommand</text></g>
<g id="n-ToLeaderBoardCommand"><rect class="b" x="634.5" y="532.7" width="89" height="24"/><path class="d" d="M634.5 548.7h89M634.5 552.7h89"/><circle class="ic C" cx="642" cy="541.2" r="5.5"/><text class="g" x="642" y="544">C</text><text class="t" x="649" y="543.7">ToLeaderBoardCommand</text></g>
<g id="n-ToMenuCommand"><rect class="b" x="740.5" y="532.7" width="68" height="24"/><path class="d" d="M740.5 548.7h68M740.5 552.7h68"/><circle class="ic C" cx="748" cy="541.2" r="5.5"/><text class="g" x="748" y="544">C</text><text class="t" x="755" y="543.7">ToMenuCommand</text></g>
<g id="n-ToSettingsCommand"><rect class="b" x="826.5" y="532.7" width="75" height="24"/><path class="d" d="M826.5 548.7h75M826.5 552.7h75"/><circle class="ic C" cx="834" cy="541.2" r="5.5"/><text class="g" x="834" y="544">C</text><text class="t" x="841" y="543.7">ToSettingsCommand</text></g>
<g id="n-BackCommand"><rect class="b" x="918.5" y="532.7" width="59" height="24"/><path class="d" d="M918.5 548.7h59M918.5 552.7h59"/><circle class="ic C" cx="926" cy="541.2" r="5.5"/><text class="g" x="926" y="544">C</text><text class="t" x="933" y="543.7">BackCommand</text></g>
<g id="n-EasyCommand"><rect class="b" x="995.5" y="532.7" width="59" height="24"/><path class="d" d="M995.5 548.7h59M995.5 552.7h59"/><circle class="ic C" cx="1003" cy="541.2" r="5.5"/><text class="g" x="1003" y="544">C</text><text class="t" x="1010" y="543.7">EasyCommand</text></g>
<g id="n-HardCommand"><rect class="b" x="1071.5" y="532.7" width="59" height="24"/><path class="d" d="M1071.5 548.7h59M1071.5 552.7h59"/><circle class="ic C" cx="1079" cy="541.2" r="5.5"/><text class="g" x="1079" y="544">C</text><text class="t" x="1086" y="543.7">HardCommand</text></g>
<g id="n-LoadCommand"><rect class="b" x="1148.5" y="532.7" width="59.5" height="24"/><path class="d" d="M1148.5 548.7h59.5M1148.5 552.7h59.5"/><circle class="ic C" cx="1156" cy="541.2" r="5.5"/><text class="g" x="1156" y="544">C</text><text class="t" x="1163" y="543.7">LoadCommand</text></g>
<g id="n-NothingCommand"><rect class="b" x="1225.5" y="532.7" width="67" height="24"/><path class="d" d="M1225.5 548.7h67M1225.5 552.7h67"/><circle class="ic C" cx="1233" cy="541.2" r="5.5"/><text class="g" x="1233" y="544">C</text><text class="t" x="1240" y="543.7">NothingCommand</text></g>
<g id="n-PausePanelCommand"><rect class="b" x="1310.5" y="532.7" width="79.5" height="24"/><path class="d" d="M1310.5 548.7h79.5M1310.5 552.7h79.5"/><circle class="ic C" cx="1318" cy="541.2" r="5.5"/><text class="g" x="1318" y="544">C</text><text class="t" x="1325" y="543.7">PausePanelCommand</text></g>
<g id="n-GameState"><rect class="b" x="2025.5" y="407" width="47" height="24"/><path class="d" d="M2025.5 423h47M2025.5 427h47"/><circle class="ic A" cx="2033" cy="415.5" r="5.5"/><text class="g" x="2033" y="418.3">A</text><text class="it" x="2040" y="418">GameState</text></g>
<g id="n-GameplayState"><rect class="b" x="1844.5" y="479.5" width="58" height="24"/><path class="d" d="M1844.5 495.5h58M1844.5 499.5h58"/><circle class="ic C" cx="1852" cy="488" r="5.5"/><text class="g" x="1852" y="490.8">C</text><text class="t" x="1859" y="490.5">GameplayState</text></g>
<g id="n-GameWinState"><rect class="b" x="1917" y="479.5" width="56" height="24"/><path class="d" d="M1917 495.5h56M1917 499.5h56"/><circle class="ic C" cx="1924.5" cy="488" r="5.5"/><text class="g" x="1924.5" y="490.8">C</text><text class="t" x="1931.5" y="490.5">GameWinState</text></g>
<g id="n-LeaderBoardState"><rect class="b" x="1987" y="479.5" width="66" height="24"/><path class="d" d="M1987 495.5h66M1987 499.5h66"/><circle class="ic C" cx="1994.5" cy="488" r="5.5"/><text class="g" x="1994.5" y="490.8">C</text><text class="t" x="2001.5" y="490.5">LeaderBoardState</text></g>
<g id="n-MenuState"><rect class="b" x="2067" y="479.5" width="46" height="24"/><path class="d" d="M2067 495.5h46M2067 499.5h46"/><circle class="ic C" cx="2074.5" cy="488" r="5.5"/><text class="g" x="2074.5" y="490.8">C</text><text class="t" x="2081.5" y="490.5">MenuState</text></g>
<g id="n-SettingsState"><rect class="b" x="2127" y="479.5" width="55" height="24"/><path class="d" d="M2127 495.5h55M2127 499.5h55"/><circle class="ic C" cx="2134.5" cy="488" r="5.5"/><text class="g" x="2134.5" y="490.8">C</text><text class="t" x="2141.5" y="490.5">SettingsState</text></g>
<g id="n-DiffSelectState"><rect class="b" x="2205" y="479.5" width="63" height="24"/><path class="d" d="M2205 495.5h63M2205 499.5h63"/><circle class="ic C" cx="2212.5" cy="488" r="5.5"/><text class="g" x="2212.5" y="490.8">C</text><text class="t" x="2219.5" y="490.5">DiffSelectState</text></g>
<g id="n-GameOverState"><rect class="b" x="1844.5" y="532.5" width="59" height="24"/><path class="d" d="M1844.5 548.5h59M1844.5 552.5h59"/><circle class="ic C" cx="1852" cy="541" r="5.5"/><text class="g" x="1852" y="543.8">C</text><text class="t" x="1859" y="543.5">GameOverState</text></g>
<g id="n-GamePausedState"><rect class="b" x="1922" y="532.5" width="67" height="24"/><path class="d" d="M1922 548.5h67M1922 552.5h67"/><circle class="ic C" cx="1929.5" cy="541" r="5.5"/><text class="g" x="1929.5" y="543.8">C</text><text class="t" x="1936.5" y="543.5">GamePausedState</text></g>
<text class="f" x="2825" y="591">PlantUML diagram generated by SketchIt! (https://bitbucket.org/pmesmeur/sketch.it)</text>
<text class="f" x="2825" y="597">For more information about this tool, please contact philippe.mesmeur@gmail.com</text>
</svg>
